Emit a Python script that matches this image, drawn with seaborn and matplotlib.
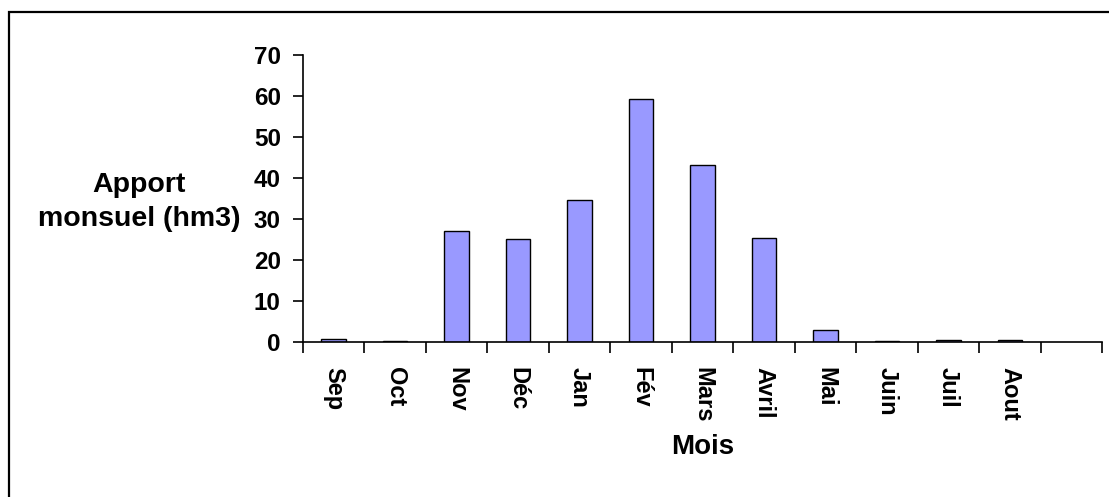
import matplotlib
matplotlib.use("Agg")
import matplotlib.pyplot as plt
import seaborn as sns
import pandas as pd
from matplotlib.patches import Rectangle

# Monthly inflow (hm3) over the hydrological year
months = ["Sep", "Oct", "Nov", "Déc", "Jan", "Fév", "Mars", "Avril", "Mai", "Juin", "Juil", "Aout"]
apports = [0.8, 0.2, 27.0, 25.1, 34.7, 59.2, 43.2, 25.4, 2.9, 0.2, 0.5, 0.5]
y_ticks = [0, 10, 20, 30, 40, 50, 60, 70]

sns.set_theme(style="white", rc={"text.color": "black", "xtick.color": "black",
                                 "ytick.color": "black", "axes.labelcolor": "black"})
plt.rcParams["font.family"] = ["Liberation Sans", "DejaVu Sans"]
plt.rcParams["font.weight"] = "bold"

W, H = 1109, 497
fig = plt.figure(figsize=(W / 100, H / 100), dpi=100)
fig.patch.set_facecolor("white")

# plot area in pixel terms
x0, x1, y_top, y_bot = 303, 1102, 55, 342
ax = fig.add_axes([x0 / W, 1 - y_bot / H, (x1 - x0) / W, (y_bot - y_top) / H])

df = pd.DataFrame({"Mois": months, "Apport": apports})
sns.barplot(data=df, x="Mois", y="Apport", order=months, color="#9999FF",
            saturation=1, width=0.4, edgecolor="black", linewidth=1.0, ax=ax)

# one spare category slot after the last month
n_slots = len(months) + 1
ax.set_xlim(-0.5, n_slots - 0.5)
ax.set_ylim(0, 70)

ax.set_facecolor("white")
for side in ("top", "right"):
    ax.spines[side].set_visible(False)
for side in ("left", "bottom"):
    ax.spines[side].set_color("black")
    ax.spines[side].set_linewidth(1.2)

ax.set_yticks(y_ticks)
ax.set_yticklabels([str(v) for v in y_ticks], fontsize=17.5, fontweight="bold", color="black")
ax.tick_params(axis="y", direction="out", length=7, width=1.2, color="black", pad=9, left=True)

ax.set_xticks(range(len(months)))
ax.set_xticklabels(months, rotation=270, fontsize=17, fontweight="bold", va="top",
                   ha="center", color="black")
ax.tick_params(axis="x", which="major", length=0, pad=18)
ax.set_xticks([i - 0.5 for i in range(n_slots + 1)], minor=True)
ax.tick_params(axis="x", which="minor", direction="out", length=8, width=1.2, color="black", bottom=True)

ax.set_xlabel("")
ax.set_ylabel("")

fig.text(139 / W, 1 - 202 / H, "Apport\nmonsuel (hm3)", ha="center", va="center",
         fontsize=20.5, fontweight="bold", linespacing=1.45, color="black")
fig.text((x0 + x1) / 2 / W, 1 - 447 / H, "Mois", ha="center", va="center",
         fontsize=20, fontweight="bold", color="black")

# chart frame (top and left edges fall inside the image)
fig.add_artist(Rectangle((8.5 / W, -0.2), 1.2, 1.2 - 12 / H, transform=fig.transFigure,
                         fill=False, edgecolor="black", linewidth=1.6))

fig.savefig("out.png", dpi=100, facecolor="white")
